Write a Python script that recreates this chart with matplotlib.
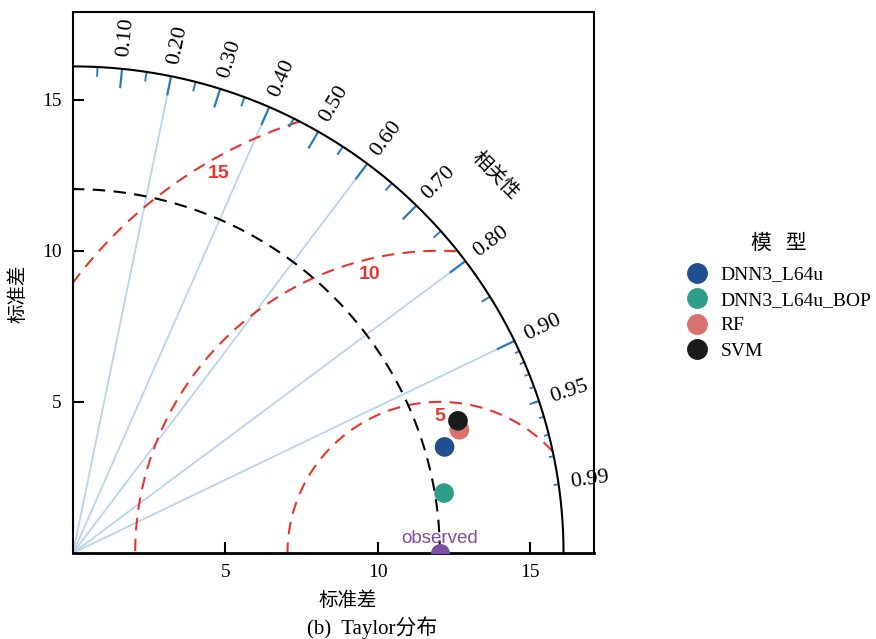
import numpy as np
import matplotlib
matplotlib.use("Agg")
import matplotlib.pyplot as plt
from matplotlib.lines import Line2D

plt.rcParams['font.family'] = ['Liberation Serif', 'Noto Sans CJK SC']

# model statistics (standard deviation, correlation with observations)
models = ['DNN3_L64u', 'DNN3_L64u_BOP', 'RF', 'SVM']
model_sd = [12.69, 12.34, 13.32, 13.37]
model_corr = [0.961, 0.987, 0.952, 0.945]
model_colors = ['#1f4f8f', '#2f9e89', '#d9716f', '#1a1a1a']

obs_sd = 12.04
max_sd = 16.1
rms_levels = [5, 10, 15]
rms_label_angle = [90, 104, 120]

corr_lines = [0.2, 0.4, 0.6, 0.8, 0.9]
big_ticks = np.round(np.arange(0.1, 0.91, 0.1), 2)
med_ticks = np.round(np.arange(0.05, 0.96, 0.1), 2)
sml_ticks = np.round(np.arange(0.91, 0.995, 0.01), 2)
corr_tick_labels = list(big_ticks) + [0.95, 0.99]

sd_ticks = [5, 10, 15]

red = '#e8342a'
tick_blue = '#2b7bbb'
line_blue = '#b9d5ea'

fig = plt.figure(figsize=(8.76, 6.39), dpi=100)
ax = fig.add_axes([73 / 876, 86 / 639, 521 / 876, 541 / 639])
ax.set_xlim(0, 17.1)
ax.set_ylim(0, 17.9)

# correlation grid lines
for c in corr_lines:
    th = np.arccos(c)
    ax.plot([0, max_sd * np.cos(th)], [0, max_sd * np.sin(th)],
            color=line_blue, lw=1.3, zorder=1)

# centred RMS difference contours
t = np.linspace(0, np.pi, 600)
for r in rms_levels:
    x = obs_sd + r * np.cos(t)
    y = r * np.sin(t)
    inside = (np.hypot(x, y) <= max_sd) & (x >= 0)
    x = np.where(inside, x, np.nan)
    y = np.where(inside, y, np.nan)
    ax.plot(x, y, color=red, lw=1.5, ls=(0, (6, 4)), zorder=2)
for r, a in zip(rms_levels, rms_label_angle):
    rr = r - 0.5
    ax.text(obs_sd + rr * np.cos(np.radians(a)), rr * np.sin(np.radians(a)),
            str(r), color=red, fontsize=14, fontweight='bold',
            family='Liberation Sans', ha='center', va='center', zorder=3)

# reference standard deviation arc
q = np.linspace(0, np.pi / 2, 300)
ax.plot(obs_sd * np.cos(q), obs_sd * np.sin(q), color='black', lw=1.5,
        ls=(0, (6, 4)), zorder=2)

# outer arc
ax.plot(max_sd * np.cos(q), max_sd * np.sin(q), color='black', lw=1.5, zorder=4)

# correlation ticks on the outer arc
for vals, frac, w in [(big_ticks, 0.96, 1.6), (med_ticks, 0.98, 1.4), (sml_ticks, 0.99, 1.3)]:
    for c in vals:
        th = np.arccos(c)
        ax.plot([max_sd * np.cos(th), frac * max_sd * np.cos(th)],
                [max_sd * np.sin(th), frac * max_sd * np.sin(th)],
                color=tick_blue, lw=w, zorder=3, solid_capstyle='butt')

for c in corr_tick_labels:
    th = np.arccos(c)
    ax.text(1.025 * max_sd * np.cos(th), 1.025 * max_sd * np.sin(th), '%.2f' % c,
            rotation=np.degrees(th), rotation_mode='anchor', ha='left', va='center',
            fontsize=16, clip_on=False)

ax.text(13.85, 12.5, '相关性', rotation=-45, ha='center', va='center', fontsize=14,
        family=['Noto Sans CJK SC'])

# observed point
ax.scatter([obs_sd], [0], s=160, color='#7a4fa6', zorder=5, clip_on=True)
ax.text(obs_sd, 0.47, 'observed', color='#7a4fa6', ha='center', va='center',
        fontsize=13.5, family='Liberation Sans', zorder=5)

# models
for sd, c, col in zip(model_sd, model_corr, model_colors):
    th = np.arccos(c)
    ax.scatter(sd * np.cos(th), sd * np.sin(th), s=200, color=col, zorder=6,
               edgecolors='none')

ax.set_xticks(sd_ticks)
ax.set_yticks(sd_ticks)
ax.tick_params(direction='in', length=8, width=1.5, labelsize=14, pad=8)
for s in ax.spines.values():
    s.set_linewidth(1.5)
ax.spines['bottom'].set_linewidth(2)

ax.set_xlabel('标准差', fontsize=14, family=['Noto Sans CJK SC'])
ax.set_ylabel('标准差', fontsize=14, family=['Noto Sans CJK SC'])
ax.xaxis.set_label_coords(0.527, -0.068)
ax.yaxis.set_label_coords(-0.085, 0.48)

handles = [Line2D([], [], ls='none', marker='o', markersize=14, color=col)
           for col in model_colors]
leg = fig.legend(handles, models, title='模   型', loc='upper left',
                 bbox_to_anchor=(668 / 876, 1 - 214 / 639), frameon=False,
                 fontsize=14, handletextpad=0.6, labelspacing=0.4,
                 handlelength=1.2)
leg.get_title().set_fontsize(15)
leg.get_title().set_family(['Noto Sans CJK SC'])
leg._legend_box.sep = 9

fig.text(372 / 876, 1 - 628 / 639, '(b)  Taylor分布', ha='center', va='center',
         fontsize=15)

fig.savefig('out.png', dpi=100)
